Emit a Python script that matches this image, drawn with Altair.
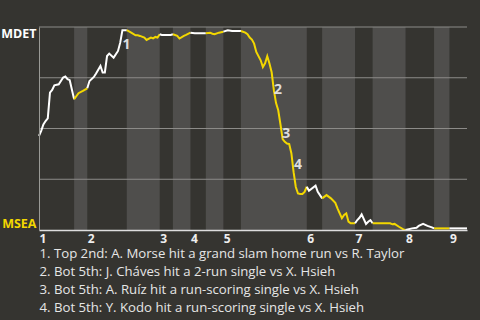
import altair as alt
import pandas as pd

FONT = "Open Sans"
BG = "#353430"
BAND = "#4f4e4c"
YELLOW = "#f3d700"
WHITE = "#ffffff"
GRID = "#8c8b88"

# play index of each traced point and win probability for MDET
play = [0, 1, 2, 3, 4, 5, 6, 7, 9, 11, 12, 13, 14, 16, 18, 20, 22, 23, 25, 26, 28, 29, 30,
        31, 32, 34, 36, 37, 38, 40, 42, 44, 45, 46, 48, 49, 51, 52, 53, 54, 55, 56, 60, 61,
        63, 64, 66, 67, 69, 71, 76, 78, 79, 80, 82, 84, 86, 88, 92, 94, 95, 96, 97, 98, 99,
        101, 102, 103, 104, 105, 106, 107, 108, 109, 110, 111, 112, 113, 114, 115, 116, 117,
        118, 119, 120, 121, 122, 123, 126, 127, 129, 131, 133, 135, 136, 137, 138, 139, 140,
        141, 142, 144, 145, 146, 147, 149, 150, 151, 152, 160, 161, 162, 164, 166, 167, 170,
        172, 173, 175, 177, 179, 180, 187, 195]
wp = [0.464, 0.488, 0.52, 0.537, 0.55, 0.677, 0.69, 0.713, 0.718, 0.751, 0.756, 0.743, 0.738,
      0.644, 0.674, 0.685, 0.698, 0.734, 0.754, 0.771, 0.808, 0.776, 0.776, 0.857, 0.869,
      0.849, 0.882, 0.923, 0.984, 0.984, 0.972, 0.959, 0.959, 0.956, 0.948, 0.936, 0.948,
      0.944, 0.951, 0.948, 0.964, 0.961, 0.961, 0.964, 0.956, 0.943, 0.956, 0.961, 0.972,
      0.969, 0.969, 0.972, 0.967, 0.964, 0.972, 0.977, 0.984, 0.980, 0.980, 0.972, 0.964,
      0.948, 0.938, 0.918, 0.877, 0.836, 0.803, 0.821, 0.856, 0.820, 0.777, 0.689, 0.625,
      0.590, 0.521, 0.448, 0.434, 0.426, 0.423, 0.377, 0.285, 0.212, 0.180, 0.177, 0.177,
      0.188, 0.213, 0.193, 0.218, 0.188, 0.156, 0.172, 0.156, 0.134, 0.107, 0.082, 0.058,
      0.074, 0.082, 0.041, 0.033, 0.033, 0.049, 0.060, 0.077, 0.030, 0.041, 0.049, 0.033,
      0.033, 0.028, 0.030, 0.016, 0.003, 0.0, 0.008, 0.011, 0.020, 0.030, 0.020, 0.013,
      0.008, 0.008, 0.008]

# first play of every half-inning (top 1, bot 1, top 2, ...) and last play of the game
half_starts = [0, 16, 22, 40, 55, 61, 69, 76, 84, 92, 122, 129, 144, 152, 167, 180, 187]
game_end = 195

notes = [
    "1. Top 2nd: A. Morse hit a grand slam home run vs R. Taylor",
    "2. Bot 5th: J. Cháves hit a 2-run single vs X. Hsieh",
    "3. Bot 5th: A. Ruíz hit a run-scoring single vs X. Hsieh",
    "4. Bot 5th: Y. Kodo hit a run-scoring single vs X. Hsieh",
]
ann_label = ["1", "2", "3", "4"]
ann_play = [39.9, 108.9, 112.7, 118.0]
ann_wp = [0.91, 0.689, 0.471, 0.32]
grid_levels = [0.25, 0.5, 0.75, 1.0]

# ---- tables
line_rows = []
band_rows = []
for h, s in enumerate(half_starts):
    e = half_starts[h + 1] if h + 1 < len(half_starts) else game_end
    side = "top" if h % 2 == 0 else "bot"
    band_rows.append({"start": s, "end": e, "side": side})
    for p, w in zip(play, wp):
        if s <= p <= e:
            line_rows.append({"play": p, "wp": w, "half": h, "side": side})
line_df = pd.DataFrame(line_rows)
band_df = pd.DataFrame(band_rows)
ann_df = pd.DataFrame({"play": ann_play, "wp": ann_wp, "label": ann_label})
grid_df = pd.DataFrame({"level": grid_levels})

top_starts = half_starts[0::2]

xscale = alt.Scale(domain=[0, game_end], nice=False, zero=False)
yscale = alt.Scale(domain=[0, 1], nice=False)

xaxis = alt.Axis(
    values=top_starts,
    labelExpr="indexof(" + str(top_starts) + ", datum.value) + 1",
    labelAlign="left", labelFlush=False, labelFont=FONT, labelFontSize=12,
    labelFontWeight="bold", labelColor="#eeeeee", labelPadding=3,
    ticks=False, grid=False, domainColor="#dddddd", domainWidth=1.5, zindex=1,
    title=notes, titleFont=FONT, titleFontSize=13.2, titleFontWeight="normal",
    titleColor="#e6e6e6", titleAnchor="start", titleAlign="left",
    titleBaseline="top", titleX=0, titleY=17, titleLineHeight=18,
)
yaxis = alt.Axis(
    values=[0, 0.25, 0.5, 0.75, 1],
    labelExpr="datum.value == 1 ? 'MDET' : (datum.value == 0 ? 'MSEA' : '')",
    labelFlush=True, labelFont=FONT, labelFontSize=12.5, labelFontWeight="bold",
    labelColor={"condition": {"test": "datum.value == 0", "value": YELLOW}, "value": WHITE},
    labelPadding=3, ticks=False, grid=False, domainColor="#9a9a96", zindex=1, title=None,
)

bands = alt.Chart(band_df).transform_filter("datum.side == 'bot'").mark_rect(color=BAND).encode(
    x=alt.X("start:Q", scale=xscale, axis=xaxis), x2="end:Q"
)
grid = alt.Chart(grid_df).mark_rule(color=GRID, strokeWidth=1).encode(
    y=alt.Y("level:Q", scale=yscale, axis=yaxis)
)
line = alt.Chart(line_df).mark_line(strokeWidth=2).encode(
    x=alt.X("play:Q", scale=xscale, axis=xaxis),
    y=alt.Y("wp:Q", scale=yscale, axis=yaxis),
    color=alt.Color("side:N", scale=alt.Scale(domain=["top", "bot"], range=[WHITE, YELLOW]), legend=None),
    detail="half:N",
)
ann = alt.Chart(ann_df).mark_text(font=FONT, fontSize=14, fontWeight="bold", color="#dddddd").encode(
    x=alt.X("play:Q", scale=xscale, axis=xaxis),
    y=alt.Y("wp:Q", scale=yscale, axis=yaxis),
    text="label:N",
)

chart = alt.layer(bands, grid, line, ann).properties(
    width=428, height=203, background=BG,
    padding={"left": 39, "top": 27, "right": 13, "bottom": 90},
    autosize=alt.AutoSizeParams(type="none"),
).configure_view(stroke=None)

chart.save("out.html", embed_options={"renderer": "svg", "actions": False})
